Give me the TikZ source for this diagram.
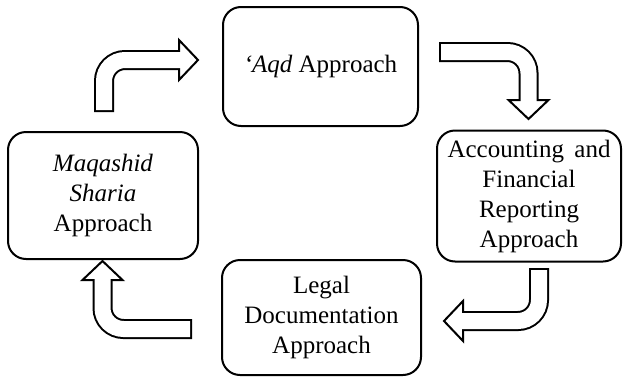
\documentclass[tikz,border=0pt]{standalone}
\usepackage{fontspec}
\setmainfont{Liberation Serif}
\usetikzlibrary{calc, positioning}

\tikzset{
	approach/.style={draw, line width=2pt, rounded corners=18pt, inner sep=2pt,
		align=center, font=\fontsize{25}{30}\selectfont},
}
% bent block arrow: tail, corner, tip
\newcommand{\bentarrow}[3]{%
	\coordinate (hb) at ($(#3)!19pt!(#2)$);
	\coordinate (ht) at ($(#3)!17pt!(#2)$);
	\coordinate (sa) at ($(#1)!2pt!(#2)$);
	\draw[line width=20pt, rounded corners=21pt] (#1) -- (#2) -- (hb);
	\draw[line width=2pt, fill=white, line join=miter] (#3) -- ($(hb)!20pt!90:(#3)$) -- ($(hb)!20pt!-90:(#3)$) -- cycle;
	\draw[white, line width=16pt, rounded corners=21pt] (sa) -- (#2) -- (ht);
}

\begin{document}
\begin{tikzpicture}[x=1pt, y=-1pt]
	\useasboundingbox (0,0) rectangle (624,378);
	
	% Draw the four approaches
	\node[approach, minimum width=195pt, minimum height=119pt] (aqd) at (320.5,66.5) {\textit{`Aqd} Approach};
	\node[approach, minimum width=184pt, minimum height=131pt] (accounting) at (529,196) {\makebox[163pt][s]{Accounting and}\\ Financial\\ Reporting\\ Approach};
	\node[approach, minimum width=199pt, minimum height=115pt] (legal) at (321.5,317.5) {Legal\\ Documentation\\ Approach};
	\node[approach, minimum width=190pt, minimum height=127pt] (maqashid) at (103,195.5) {\textit{Maqashid}\\ \textit{Sharia}\\ Approach};
	
	% Points of the bent arrows
	\coordinate (tail1) at (104,112);   \coordinate (bend1) at (104,60);    \coordinate (tip1) at (198,60);
	\coordinate (tail2) at (439,52);    \coordinate (bend2) at (528.5,52);  \coordinate (tip2) at (528.5,119);
	\coordinate (tail3) at (539,268);   \coordinate (bend3) at (539,321);   \coordinate (tip3) at (444,321);
	\coordinate (tail4) at (192,329);   \coordinate (bend4) at (102.5,329); \coordinate (tip4) at (102.5,261);
	
	% Draw the arrows round the cycle
	\bentarrow{tail1}{bend1}{tip1}
	\bentarrow{tail2}{bend2}{tip2}
	\bentarrow{tail3}{bend3}{tip3}
	\bentarrow{tail4}{bend4}{tip4}
\end{tikzpicture}
\end{document}
